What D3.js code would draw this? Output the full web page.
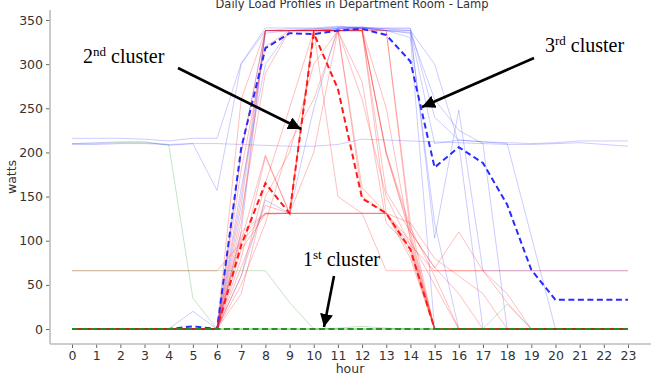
<!DOCTYPE html>
<html>
<head>
<meta charset="utf-8">
<script src="https://cdn.jsdelivr.net/npm/d3@7"></script>
<style>
  body { margin: 0; background: #ffffff; }
  svg { display: block; }
</style>
</head>
<body>
<div id="chart"></div>
<script>
// hours on the x axis
const hours = d3.range(0, 24);
const yTicks = [0, 50, 100, 150, 200, 250, 300, 350];

// 1st cluster (green) - individual days
const greenLines = [
  [210, 210, 211, 211, 209, 35, 0, 0, 0, 0, 0, 0, 0, 0, 0, 0, 0, 0, 0, 0, 0, 0, 0, 0],
  [66, 66, 66, 66, 66, 66, 66, 66, 66, 30, 0, 0, 0, 0, 0, 0, 0, 0, 0, 0, 0, 0, 0, 0],
  [0, 0, 0, 0, 0, 0, 0, 0, 0, 0, 0, 1, 3, 1, 0, 0, 0, 0, 0, 0, 0, 0, 0, 0],
  [0, 0, 0, 0, 0, 0, 0, 0, 0, 0, 0, 0, 0, 0, 0, 0, 0, 0, 28, 0, 0, 0, 0, 0]
];
const greenCentroid = [0, 0, 0, 0, 0, 0, 0, 0, 0, 0, 0, 0, 0, 0, 0, 0, 0, 0, 0, 0, 0, 0, 0, 0];

// 2nd cluster (red)
const redLines = [
  [66, 66, 66, 66, 66, 66, 66, 98, 131, 131, 131, 131, 131, 66, 66, 66, 66, 66, 66, 66, 66, 66, 66, 66],
  [0, 0, 0, 0, 0, 0, 0, 110, 131, 131, 131, 131, 131, 131, 90, 0, 0, 0, 0, 0, 0, 0, 0, 0],
  [0, 0, 0, 0, 0, 0, 0, 105, 131, 131, 131, 131, 131, 131, 85, 0, 0, 0, 0, 0, 0, 0, 0, 0],
  [0, 0, 0, 0, 0, 0, 0, 200, 338, 338, 338, 338, 340, 197, 110, 0, 0, 0, 0, 0, 0, 0, 0, 0],
  [0, 0, 0, 0, 0, 0, 0, 150, 338, 338, 338, 338, 150, 131, 100, 0, 0, 0, 0, 0, 0, 0, 0, 0],
  [0, 0, 0, 0, 0, 0, 0, 60, 165, 250, 338, 338, 338, 200, 115, 60, 0, 0, 0, 0, 0, 0, 0, 0],
  [0, 0, 0, 0, 0, 0, 0, 80, 195, 131, 338, 338, 338, 155, 110, 69, 110, 66, 40, 0, 0, 0, 0, 0],
  [0, 0, 0, 0, 0, 0, 0, 130, 290, 338, 338, 338, 260, 150, 95, 0, 0, 0, 0, 0, 0, 0, 0, 0],
  [0, 0, 0, 0, 0, 0, 0, 40, 150, 200, 300, 338, 338, 338, 120, 0, 0, 0, 0, 0, 0, 0, 0, 0],
  [0, 0, 0, 0, 0, 0, 0, 90, 130, 131, 200, 338, 340, 250, 100, 50, 0, 0, 0, 0, 0, 0, 0, 0],
  [0, 0, 0, 0, 0, 0, 0, 180, 320, 338, 338, 150, 131, 131, 80, 0, 0, 0, 0, 0, 0, 0, 0, 0],
  [0, 0, 0, 0, 0, 0, 0, 120, 338, 338, 338, 338, 338, 338, 110, 70, 40, 0, 0, 0, 0, 0, 0, 0],
  [0, 0, 0, 0, 0, 0, 0, 50, 120, 210, 260, 338, 160, 131, 120, 80, 60, 40, 0, 0, 0, 0, 0, 0],
  [0, 0, 0, 0, 0, 0, 0, 70, 140, 131, 338, 338, 338, 131, 95, 66, 66, 66, 30, 0, 0, 0, 0, 0],
  [0, 0, 0, 0, 0, 0, 0, 260, 338, 338, 338, 338, 338, 200, 105, 0, 0, 0, 0, 0, 0, 0, 0, 0],
  [0, 0, 0, 0, 0, 0, 0, 100, 197, 131, 338, 338, 280, 120, 92, 0, 0, 0, 0, 0, 0, 0, 0, 0]
];
const redCentroid = [0, 0, 0, 0, 0, 0, 0, 95, 165, 131, 335, 272, 148, 131, 90, 0, 0, 0, 0, 0, 0, 0, 0, 0];

// 3rd cluster (blue)
const blueLines = [
  [216, 216, 216, 215, 213, 216, 216, 301, 341, 341, 341, 343, 341, 341, 341, 240, 214, 212, 211, 210, 211, 213, 213, 213],
  [210, 211, 212, 212, 208, 210, 157, 300, 338, 338, 339, 340, 341, 338, 336, 260, 225, 210, 0, 0, 0, 0, 0, 0],
  [209, 209, 210, 210, 209, 210, 210, 209, 208, 207, 207, 209, 215, 214, 213, 212, 211, 210, 209, 209, 210, 211, 209, 207],
  [0, 0, 0, 0, 0, 0, 0, 140, 335, 338, 338, 340, 341, 338, 330, 0, 0, 0, 0, 0, 0, 0, 0, 0],
  [0, 0, 0, 0, 0, 0, 0, 60, 146, 131, 250, 342, 342, 340, 338, 210, 214, 212, 210, 105, 0, 0, 0, 0],
  [0, 0, 0, 0, 0, 20, 0, 110, 338, 340, 340, 342, 341, 340, 340, 103, 248, 66, 66, 66, 66, 66, 66, 66],
  [0, 0, 0, 0, 0, 0, 0, 200, 338, 338, 340, 341, 342, 338, 338, 300, 210, 0, 0, 0, 0, 0, 0, 0],
  [0, 0, 0, 0, 0, 0, 0, 160, 300, 338, 338, 340, 340, 338, 335, 120, 0, 0, 0, 0, 0, 0, 0, 0]
];
const blueCentroid = [0, 0, 0, 0, 0, 3, 0, 205, 318, 335, 334, 338, 340, 333, 303, 183, 206, 188, 141, 67, 33, 33, 33, 33];

// annotations
const labels = [
  {num: "2", sup: "nd", x: 83, y: 63, from: [178, 68], to: [301, 129]},
  {num: "3", sup: "rd", x: 545, y: 52, from: [534, 58], to: [422, 107]},
  {num: "1", sup: "st", x: 303, y: 266, from: [334, 276], to: [324, 327]}
];

const margin = {top: 10, right: 1, bottom: 32, left: 50};
const width = 651;
const height = 376;
const fontSize = "12.5px";

const svg = d3.select("#chart").append("svg")
  .attr("width", width)
  .attr("height", height);

const x = d3.scaleLinear().domain([0, 23]).range([72, 628]);
const y = d3.scaleLinear().domain([0, 350]).range([329, 20]);

// title (sits against the top edge like the original)
svg.append("text")
  .attr("x", 352)
  .attr("y", 8)
  .attr("text-anchor", "middle")
  .style("font-family", "DejaVu Sans")
  .style("font-size", "11.5px")
  .style("fill", "#333")
  .text("Daily Load Profiles in Department Room - Lamp");

// axes
const xAxis = svg.append("g")
  .attr("transform", "translate(0," + (height - margin.bottom) + ")")
  .call(d3.axisBottom(x).tickValues(hours).tickSize(4).tickPadding(3));
xAxis.select(".domain").remove();

const yAxis = svg.append("g")
  .attr("transform", "translate(" + margin.left + ",0)")
  .call(d3.axisLeft(y).tickValues(yTicks).tickSize(4).tickPadding(3));
yAxis.select(".domain").remove();

svg.selectAll(".tick text")
  .style("font-family", "DejaVu Sans")
  .style("font-size", fontSize)
  .style("fill", "#333");
svg.selectAll(".tick line").style("stroke", "#666");

// spines: only left and bottom
svg.append("line")
  .attr("x1", margin.left).attr("x2", margin.left)
  .attr("y1", margin.top).attr("y2", height - margin.bottom)
  .style("stroke", "#bdbdbd").style("stroke-width", 1.6);
svg.append("line")
  .attr("x1", margin.left).attr("x2", width)
  .attr("y1", height - margin.bottom).attr("y2", height - margin.bottom)
  .style("stroke", "#bdbdbd").style("stroke-width", 1.6);

svg.append("text")
  .attr("transform", "translate(16," + 177 + ") rotate(-90)")
  .attr("text-anchor", "middle")
  .style("font-family", "DejaVu Sans")
  .style("font-size", fontSize)
  .style("fill", "#333")
  .text("watts");

svg.append("text")
  .attr("x", 350)
  .attr("y", 373)
  .attr("text-anchor", "middle")
  .style("font-family", "DejaVu Sans")
  .style("font-size", fontSize)
  .style("fill", "#333")
  .text("hour");

const line = d3.line()
  .x((d, i) => x(hours[i]))
  .y(d => y(d));

const plot = svg.append("g");

function drawMembers(rows, color, opacity) {
  plot.append("g").selectAll("path")
    .data(rows)
    .join("path")
    .attr("d", line)
    .style("fill", "none")
    .style("stroke", color)
    .style("stroke-width", 1)
    .style("stroke-opacity", opacity);
}

function drawCentroid(row, color, opacity) {
  plot.append("path")
    .datum(row)
    .attr("d", line)
    .style("fill", "none")
    .style("stroke", color)
    .style("stroke-width", 2)
    .style("stroke-opacity", opacity)
    .style("stroke-dasharray", "6,3.5");
}

drawMembers(blueLines, "#0000ff", 0.2);
drawMembers(redLines, "#ff0000", 0.25);
drawMembers(greenLines, "#008000", 0.22);
drawCentroid(blueCentroid, "#2b2bff", 1);
drawCentroid(redCentroid, "#ff1a1a", 1);
drawCentroid(greenCentroid, "#1f8f1f", 0.95);

// arrows with cluster labels
svg.append("defs").append("marker")
  .attr("id", "head")
  .attr("viewBox", "0 0 10 10")
  .attr("refX", 10).attr("refY", 5)
  .attr("markerWidth", 5).attr("markerHeight", 5)
  .attr("markerUnits", "strokeWidth")
  .attr("orient", "auto")
  .append("path")
  .attr("d", "M0,0 L10,5 L0,10 Z")
  .style("fill", "#000");

const notes = svg.append("g");
labels.forEach(l => {
  notes.append("line")
    .attr("x1", l.from[0]).attr("y1", l.from[1])
    .attr("x2", l.to[0]).attr("y2", l.to[1])
    .style("stroke", "#000")
    .style("stroke-width", 2.6)
    .attr("marker-end", "url(#head)");

  const t = notes.append("text")
    .attr("x", l.x)
    .attr("y", l.y)
    .style("font-family", "Liberation Serif")
    .style("font-size", "20px")
    .style("fill", "#000");
  t.append("tspan").text(l.num);
  t.append("tspan").attr("dy", -7).style("font-size", "13px").text(l.sup);
  t.append("tspan").attr("dy", 7).text(" cluster");
});
</script>
</body>
</html>
